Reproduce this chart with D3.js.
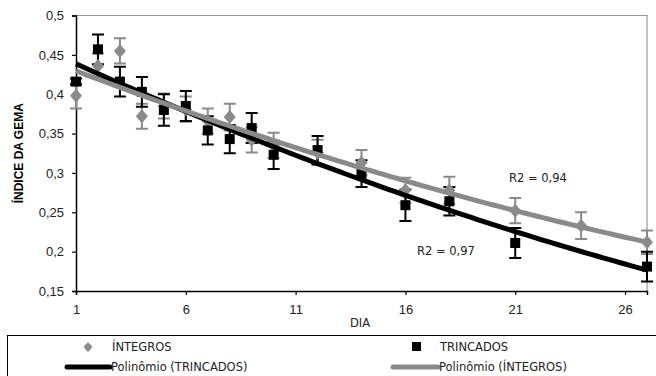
<!DOCTYPE html>
<html>
<head>
<meta charset="utf-8">
<script src="https://cdn.jsdelivr.net/npm/d3@7"></script>
<style>
  body { margin: 0; background: #fff; }
  svg { display: block; }
  .tick text { font-family: "Liberation Sans", Arial, sans-serif; font-size: 13px; fill: #222; }
  .lbl { font-family: "DejaVu Sans", "Liberation Sans", sans-serif; font-size: 11.5px; fill: #222; }
</style>
</head>
<body>
<svg id="chart" width="656" height="376"></svg>
<script>
'use strict'

// ÍNTEGROS (gray diamonds)
const integrosDias = [1, 2, 3, 4, 5, 6, 7, 8, 9, 10, 12, 14, 16, 18, 21, 24, 27]
const integrosValores = [0.398, 0.436, 0.455, 0.372, 0.385, 0.381, 0.366, 0.371, 0.342, 0.335, 0.326, 0.313, 0.278, 0.278, 0.252, 0.233, 0.212]
const integrosErros = [0.016, 0.016, 0.016, 0.016, 0.016, 0.016, 0.016, 0.017, 0.016, 0.016, 0.016, 0.016, 0.016, 0.017, 0.016, 0.017, 0.015]

// TRINCADOS (black squares)
const trincadosDias = [1, 2, 3, 4, 5, 6, 7, 8, 9, 10, 12, 14, 16, 18, 21, 27]
const trincadosValores = [0.416, 0.457, 0.416, 0.403, 0.380, 0.385, 0.354, 0.343, 0.357, 0.323, 0.329, 0.299, 0.259, 0.264, 0.211, 0.181]
const trincadosErros = [0.004, 0.019, 0.019, 0.019, 0.02, 0.019, 0.018, 0.018, 0.019, 0.018, 0.018, 0.017, 0.02, 0.018, 0.019, 0.019]

const xTicks = [1, 6, 11, 16, 21, 26]
const yTicks = [0.15, 0.2, 0.25, 0.3, 0.35, 0.4, 0.45, 0.5]
const r2Labels = ['R2 = 0,94', 'R2 = 0,97']

const GRAY = '#8a8a8a'
const svg = d3.select('#chart')

const x = d3.scaleLinear().domain([1, 27]).range([76, 647])
const y = d3.scaleLinear().domain([0.15, 0.5]).range([291, 15.5])

const fmt = v => String(+v.toFixed(2)).replace('.', ',')
const diamond = (w, h) => `M0,${-h}L${w},0L0,${h}L${-w},0Z`

// least squares polynomial fit (order 2), like the spreadsheet trendline
function polyFit (xs, ys, order) {
  const n = order + 1
  const A = []
  for (let i = 0; i < n; i++) {
    A.push(new Array(n + 1).fill(0))
  }
  xs.forEach((xv, k) => {
    for (let i = 0; i < n; i++) {
      for (let j = 0; j < n; j++) A[i][j] += Math.pow(xv, i + j)
      A[i][n] += ys[k] * Math.pow(xv, i)
    }
  })
  for (let i = 0; i < n; i++) {
    for (let r = i + 1; r < n; r++) {
      const f = A[r][i] / A[i][i]
      for (let c = i; c <= n; c++) A[r][c] -= f * A[i][c]
    }
  }
  const coef = new Array(n).fill(0)
  for (let i = n - 1; i >= 0; i--) {
    let s = A[i][n]
    for (let j = i + 1; j < n; j++) s -= A[i][j] * coef[j]
    coef[i] = s / A[i][i]
  }
  return xv => coef.reduce((acc, c, i) => acc + c * Math.pow(xv, i), 0)
}

// plot frame (top / right in gray)
svg.append('path')
  .attr('d', `M${x(1)},${y(0.5)}H${x(27)}V${y(0.15)}`)
  .attr('fill', 'none')
  .attr('stroke', '#999')
  .attr('stroke-width', 1.2)

// axes
const yAxis = svg.append('g')
  .attr('transform', `translate(${x(1)},0)`)
  .call(d3.axisLeft(y).tickValues(yTicks).tickFormat(fmt).tickSize(4).tickPadding(8))
const xAxis = svg.append('g')
  .attr('transform', `translate(0,${y(0.15)})`)
  .call(d3.axisBottom(x).tickValues(xTicks).tickFormat(d3.format('d')).tickSize(4).tickPadding(10))
;[yAxis, xAxis].forEach(g => {
  g.select('.domain').attr('stroke', '#000').attr('stroke-width', 1.5)
  g.selectAll('.tick line').attr('stroke', '#000').attr('stroke-width', 1.2)
})

svg.append('text')
  .attr('transform', `translate(19,${(y(0.15) + y(0.5)) / 2}) rotate(-90)`)
  .attr('text-anchor', 'middle')
  .attr('dy', '0.35em')
  .style('font-family', '"Liberation Sans", Arial, sans-serif')
  .style('font-weight', 'bold')
  .style('font-size', '12px')
  .text('ÍNDICE DA GEMA')

svg.append('text')
  .attr('class', 'lbl')
  .attr('x', 360)
  .attr('y', 327)
  .attr('text-anchor', 'middle')
  .text('DIA')

// trend lines
const fitTrinc = polyFit(trincadosDias, trincadosValores, 2)
const fitInteg = polyFit(integrosDias, integrosValores, 2)
const sampleDias = d3.range(1, 27.01, 0.25)
const line = fn => d3.line().x(d => x(d)).y(d => y(fn(d)))(sampleDias)

// error bars
function errorBars (dias, vals, errs, color) {
  const g = svg.append('g').attr('stroke', color).attr('stroke-width', 2)
  dias.forEach((d, i) => {
    const cx = x(d)
    const top = y(vals[i] + errs[i])
    const bot = y(vals[i] - errs[i])
    g.append('path')
      .attr('d', `M${cx},${top}V${bot}M${cx - 6},${top}H${cx + 6}M${cx - 6},${bot}H${cx + 6}`)
      .attr('fill', 'none')
  })
}

errorBars(integrosDias, integrosValores, integrosErros, GRAY)
errorBars(trincadosDias, trincadosValores, trincadosErros, '#000')

svg.append('g').selectAll('path')
  .data(integrosDias)
  .join('path')
  .attr('d', diamond(6, 7))
  .attr('transform', (d, i) => `translate(${x(d)},${y(integrosValores[i])})`)
  .attr('fill', GRAY)

svg.append('g').selectAll('rect')
  .data(trincadosDias)
  .join('rect')
  .attr('x', d => x(d) - 5)
  .attr('y', (d, i) => y(trincadosValores[i]) - 5)
  .attr('width', 10)
  .attr('height', 10)
  .attr('fill', '#000')

svg.append('path')
  .attr('d', line(fitTrinc))
  .attr('fill', 'none')
  .attr('stroke', '#000')
  .attr('stroke-width', 5)
svg.append('path')
  .attr('d', line(fitInteg))
  .attr('fill', 'none')
  .attr('stroke', GRAY)
  .attr('stroke-width', 5)

svg.append('text').attr('class', 'lbl').attr('x', 509).attr('y', 182).text(r2Labels[0])
svg.append('text').attr('class', 'lbl').attr('x', 417).attr('y', 255).text(r2Labels[1])

// legend
const legend = svg.append('g')
legend.append('rect')
  .attr('x', 7.5).attr('y', 335.5)
  .attr('width', 700).attr('height', 60)
  .attr('fill', 'none')
  .attr('stroke', '#000')
  .attr('stroke-width', 1)

legend.append('path')
  .attr('d', diamond(4.5, 5))
  .attr('transform', 'translate(88,347)')
  .attr('fill', GRAY)
legend.append('text').attr('class', 'lbl').attr('x', 112).attr('y', 351).text('ÍNTEGROS')

legend.append('rect').attr('x', 412).attr('y', 342).attr('width', 9).attr('height', 9).attr('fill', '#000')
legend.append('text').attr('class', 'lbl').attr('x', 440).attr('y', 351).text('TRINCADOS')

legend.append('line')
  .attr('x1', 67).attr('x2', 110).attr('y1', 367).attr('y2', 367)
  .attr('stroke', '#000').attr('stroke-width', 5).attr('stroke-linecap', 'round')
legend.append('text').attr('class', 'lbl').attr('x', 111).attr('y', 371).text('Polinômio (TRINCADOS)')

legend.append('line')
  .attr('x1', 393).attr('x2', 438).attr('y1', 367).attr('y2', 367)
  .attr('stroke', GRAY).attr('stroke-width', 5).attr('stroke-linecap', 'round')
legend.append('text').attr('class', 'lbl').attr('x', 439).attr('y', 371).text('Polinômio (ÍNTEGROS)')
</script>
</body>
</html>
